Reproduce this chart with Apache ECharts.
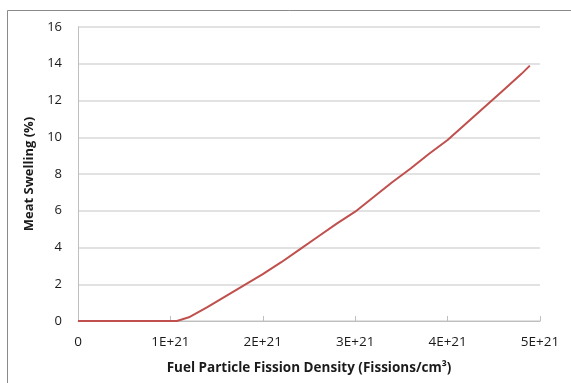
<!DOCTYPE html>
<html>
<head>
<meta charset="utf-8">
<script src="https://cdn.jsdelivr.net/npm/echarts@6/dist/echarts.min.js"></script>
<style>
  html, body { margin: 0; padding: 0; background: #fff; }
  #chart { width: 571px; height: 383px; }
</style>
</head>
<body>
<div id="chart"></div>
<script>
// Fission density (fissions/cm³) and corresponding meat swelling (%)
const fissionDensity = [
  0, 0.5e21, 1.0e21, 1.07e21, 1.2e21, 1.4e21, 1.6e21, 1.8e21, 2.0e21, 2.2e21,
  2.4e21, 2.6e21, 2.8e21, 3.0e21, 3.2e21, 3.4e21, 3.6e21, 3.8e21, 4.0e21,
  4.2e21, 4.4e21, 4.6e21, 4.8e21, 4.89e21
];
const meatSwelling = [
  0, 0, 0, 0, 0.2, 0.75, 1.35, 1.95, 2.55, 3.2,
  3.9, 4.6, 5.3, 5.95, 6.75, 7.55, 8.3, 9.1, 9.85,
  10.75, 11.65, 12.55, 13.45, 13.9
];
const xTitle = 'Fuel Particle Fission Density (Fissions/cm³)';
const yTitle = 'Meat Swelling (%)';

const points = fissionDensity.map((x, i) => [x, meatSwelling[i]]);
const font = '"Open Sans", "Liberation Sans", sans-serif';

const chart = echarts.init(document.getElementById('chart'), null, { renderer: 'canvas' });
chart.setOption({
  animation: false,
  backgroundColor: '#fff',
  graphic: [{
    type: 'rect',
    shape: { x: 7.5, y: 10.5, width: 620, height: 420 },
    style: { fill: 'none', stroke: '#8a8a8a', lineWidth: 1 },
    silent: true
  }],
  grid: { left: 78, right: 31, top: 27, bottom: 62 },
  xAxis: {
    type: 'value',
    min: 0, max: 5e21, interval: 1e21,
    name: xTitle,
    nameLocation: 'middle',
    nameGap: 40,
    nameTextStyle: { fontFamily: font, fontSize: 13.5, fontWeight: 'bold', color: '#1a1a1a' },
    axisLine: { show: true, lineStyle: { color: '#bfbfbf', width: 1 } },
    axisTick: { show: true, inside: true, length: 5, lineStyle: { color: '#bfbfbf' } },
    splitLine: { show: false },
    axisLabel: {
      margin: 14,
      fontFamily: font, fontSize: 13.5, color: '#1a1a1a',
      formatter: v => v === 0 ? '0' : Math.round(v / 1e21) + 'E+21'
    }
  },
  yAxis: {
    type: 'value',
    min: 0, max: 16, interval: 2,
    name: yTitle,
    nameLocation: 'middle',
    nameGap: 39,
    nameTextStyle: { fontFamily: font, fontSize: 13, fontWeight: 'bold', color: '#1a1a1a' },
    axisLine: { show: true, lineStyle: { color: '#bfbfbf', width: 1 } },
    axisTick: { show: false },
    splitLine: { show: true, lineStyle: { color: '#d9d9d9', width: 1.5 } },
    axisLabel: { margin: 16, fontFamily: font, fontSize: 13, color: '#1a1a1a' }
  },
  series: [{
    type: 'line',
    data: points,
    symbol: 'none',
    lineStyle: { color: '#c0504d', width: 2 },
    itemStyle: { color: '#c0504d' },
    z: 3
  }]
});
</script>
</body>
</html>
